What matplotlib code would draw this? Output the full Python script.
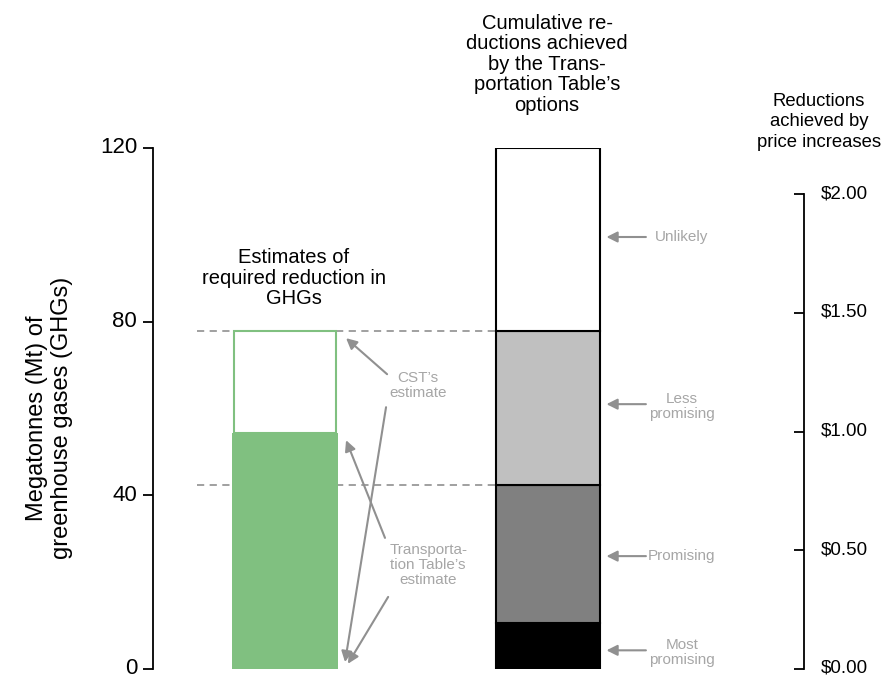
import matplotlib.pyplot as plt
from matplotlib.transforms import ScaledTranslation

plt.rcParams['font.family'] = ['Liberation Sans', 'DejaVu Sans']

# data
required_ct = 77.8        # CST's estimate (Mt)
required_tt = 54.4        # Transportation Table's estimate (Mt)
cumulative_tops = [10.6, 42.4, 77.8, 120]   # cumulative reductions (Mt)
option_labels = ['Most\npromising', 'Promising', 'Less\npromising', 'Unlikely']
option_colors = ['#000000', '#808080', '#c0c0c0', '#ffffff']
price_ticks = [0.0, 0.5, 1.0, 1.5, 2.0]
mt_ticks = [0, 40, 80, 120]

W, H = 882, 679
fig = plt.figure(figsize=(W / 100, H / 100), dpi=100)
ax = fig.add_axes([153 / W, 10 / H, 651 / W, 521 / H])

gray_txt = '#a6a6a6'
arrow_col = '#909090'
green = '#80c080'

# green bar: required reduction
ax.bar(0, required_tt, width=0.4, color=green, edgecolor='none', zorder=2)
ax.bar(0, required_ct - required_tt, bottom=required_tt, width=0.39,
       color='white', edgecolor=green, linewidth=1.5, zorder=2)

# stacked bar: cumulative options
bottom = 0
for top, col in zip(cumulative_tops, option_colors):
    ax.bar(1, top - bottom, bottom=bottom, width=0.395, color=col,
           edgecolor='black', linewidth=1.5, zorder=3)
    bottom = top

# dashed reference lines
for yv in (cumulative_tops[2], cumulative_tops[1]):
    ax.plot([-0.335, 0.8], [yv, yv], ls=(0, (4, 3)), color='#999999', lw=1.3, zorder=1)

ax.set_xlim(-0.502, 1.973)
ax.set_ylim(0, 120)
ax.set_xticks([])
ax.set_yticks(mt_ticks)
ax.tick_params(axis='y', labelsize=16, length=7.5, width=1.3, pad=4)
for s in ('top', 'right', 'bottom'):
    ax.spines[s].set_visible(False)
ax.spines['left'].set_linewidth(1.3)
ax.set_ylabel('Megatonnes (Mt) of\ngreenhouse gases (GHGs)', fontsize=17,
              linespacing=1.15)
ax.yaxis.set_label_coords(-0.123, 0.482)

# nudge tick labels up a little so the bottom one stays inside the figure
shift = ScaledTranslation(0, 2 / 72, fig.dpi_scale_trans)
for lbl in ax.get_yticklabels():
    lbl.set_transform(lbl.get_transform() + shift)

# right price axis
ax2 = ax.twinx()
ax2.set_position(ax.get_position())
ax2.set_ylim(0, 2.195)
ax2.set_yticks(price_ticks)
ax2.set_yticklabels(['${:.2f}'.format(v) for v in price_ticks])
ax2.tick_params(axis='y', direction='in', labelsize=13.5, length=7, width=1.3, pad=12)
for s in ('top', 'left', 'bottom'):
    ax2.spines[s].set_visible(False)
ax2.spines['right'].set_bounds(0, 2)
ax2.spines['right'].set_linewidth(1.3)
for lbl in ax2.get_yticklabels():
    lbl.set_transform(lbl.get_transform() + shift)

# titles
ax.text(0.034, 90, 'Estimates of\nrequired reduction in\nGHGs', ha='center', va='center',
        fontsize=14.5, linespacing=1.1)
ax.text(0.996, 139.3, "Cumulative re-\nductions achieved\nby the Trans-\nportation Table\u2019s\noptions",
        ha='center', va='center', fontsize=14.5, linespacing=1.1, clip_on=False)
ax.text(2.03, 126, 'Reductions\nachieved by\nprice increases', ha='center', va='center',
        fontsize=13.3, linespacing=1.3, clip_on=False)

# annotations on the left bar
aprops = dict(arrowstyle='-|>', color=arrow_col, lw=1.5, mutation_scale=16, shrinkA=0, shrinkB=0)
ax.text(0.506, 65.2, "CST\u2019s\nestimate", ha='center', va='center', fontsize=11,
        color=gray_txt, linespacing=1.1)
ax.annotate('', xy=(0.232, 76.2), xytext=(0.388, 67.9), arrowprops=aprops)
ax.annotate('', xy=(0.228, 1.6), xytext=(0.384, 60.3), arrowprops=aprops)
ax.text(0.544, 24.0, "Transporta-\ntion Table\u2019s\nestimate", ha='center', va='center',
        fontsize=11, color=gray_txt, linespacing=1.1)
ax.annotate('', xy=(0.232, 52.7), xytext=(0.380, 30.2), arrowprops=aprops)
ax.annotate('', xy=(0.239, 1.2), xytext=(0.392, 16.6), arrowprops=aprops)

# annotations on the stacked bar
label_y = [4.3, 26.0, 61.0, 99.5]
text_x = [1.509, 1.378, 1.509, 1.405]
for lab, yv, tx in zip(option_labels, label_y, text_x):
    ax.annotate('', xy=(1.222, yv), xytext=(1.372, yv), arrowprops=aprops)
    if '\n' in lab:
        ax.text(tx, yv - 0.5, lab, ha='center', va='center', fontsize=11,
                color=gray_txt, linespacing=1.1)
    else:
        ax.text(tx, yv, lab, ha='left', va='center', fontsize=11, color=gray_txt)

fig.savefig('out.png', dpi=100)
